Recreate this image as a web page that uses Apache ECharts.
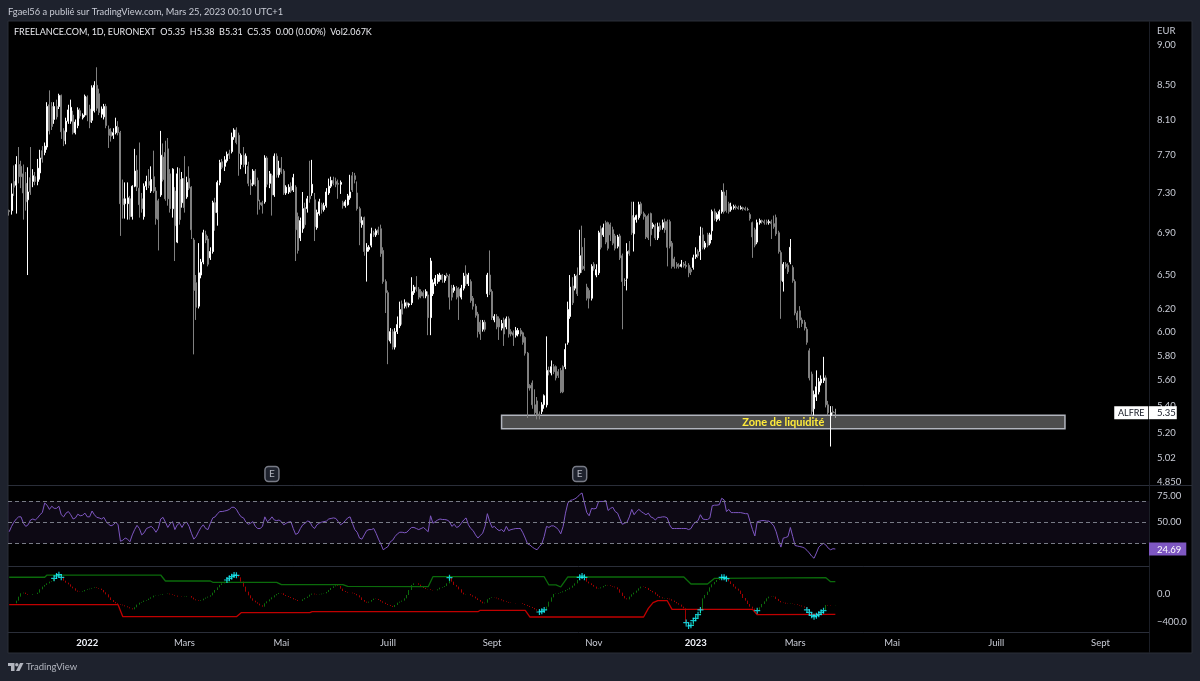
<!DOCTYPE html>
<html>
<head>
<meta charset="utf-8">
<title>FREELANCE.COM 1D</title>
<style>html,body{margin:0;padding:0;background:#1e222d}#main{width:1200px;height:681px}</style>
<script src="https://cdn.jsdelivr.net/npm/echarts@6/dist/echarts.min.js"></script>
</head>
<body>
<div id="main"></div>
<script>
// Daily session prices, oldest first
const opens = [
7.12,7.12,7.42,7.38,7.60,7.58,7.50,7.40,7.23,7.46,
7.42,7.47,7.42,7.51,7.75,7.73,7.79,8.27,8.25,8.10,
8.25,8.25,8.38,7.97,7.96,8.08,8.08,8.15,7.95,8.03,
8.20,8.12,8.15,8.36,8.22,8.09,8.20,8.50,8.40,8.16,
8.13,8.25,7.99,7.96,7.92,7.95,8.01,7.95,7.24,7.19,
7.19,7.24,7.06,7.37,7.54,7.35,7.24,7.06,7.37,7.42,
7.32,7.47,7.32,7.22,7.28,7.68,7.73,7.77,7.50,7.14,
7.32,6.81,7.44,7.20,7.45,7.26,7.45,7.36,6.83,6.43,
6.22,6.50,6.62,6.88,6.84,6.66,6.72,7.20,7.10,7.41,
7.63,7.58,7.64,7.72,7.74,7.90,7.98,7.92,7.60,7.70,
7.60,7.58,7.40,7.39,7.53,7.43,7.20,7.20,7.21,7.67,
7.40,7.48,7.28,7.69,7.49,7.56,7.53,7.30,7.31,7.37,
7.33,7.36,7.06,6.85,6.94,7.15,7.14,7.27,7.30,7.23,
6.95,7.09,7.18,7.13,7.17,7.30,7.37,7.43,7.42,7.40,
7.39,7.20,7.17,7.18,7.25,7.48,7.48,7.30,7.14,6.98,
7.05,6.72,6.74,6.78,6.90,6.88,6.93,6.94,6.73,6.44,
6.34,5.92,6.00,5.87,6.00,6.05,6.24,6.22,6.25,6.23,
6.25,6.34,6.39,6.37,6.35,6.34,6.31,6.32,6.12,6.33,
6.42,6.44,6.46,6.50,6.45,6.50,6.49,6.38,6.36,6.38,
6.37,6.30,6.38,6.51,6.42,6.44,6.29,6.22,6.15,6.08,
6.02,6.08,6.33,6.50,6.35,6.10,6.13,6.11,6.03,6.10,
6.04,6.11,6.00,5.99,5.97,5.98,6.01,5.99,5.95,5.82,
5.56,5.58,5.41,5.44,5.34,5.36,5.41,5.41,5.68,5.66,
5.71,5.71,5.67,5.68,5.71,5.71,5.91,6.13,6.40,6.38,
6.50,6.52,6.76,6.58,6.39,6.36,6.29,6.60,6.50,6.52,
6.94,6.88,7.00,7.00,6.98,6.93,6.87,6.77,6.87,6.68,
6.45,6.47,6.73,7.07,6.89,7.03,7.05,7.19,7.09,7.06,
7.07,7.09,6.96,6.97,6.85,6.97,6.95,7.01,7.01,7.01,
6.80,6.65,6.60,6.59,6.58,6.60,6.59,6.59,6.55,6.57,
6.67,6.72,6.72,6.88,6.76,6.88,6.80,6.92,7.11,7.03,
7.04,7.11,7.31,7.27,7.19,7.13,7.15,7.16,7.15,7.14,
7.15,7.14,7.13,7.08,7.00,6.93,6.81,7.00,7.02,7.01,
7.01,7.00,7.01,6.99,7.05,6.90,6.71,6.44,6.60,6.59,
6.62,6.57,6.44,6.16,6.18,6.10,6.08,6.02,5.84,5.65,
5.38,5.47,5.51,5.58,5.60,5.62,5.41,5.33,5.36,5.35];
const closes = [
7.11,7.29,7.36,7.60,7.47,7.47,7.30,7.21,7.31,7.31,
7.48,7.42,7.56,7.67,7.66,7.80,8.25,7.97,8.02,8.25,
8.13,8.38,7.96,7.86,8.08,8.21,8.24,7.95,8.07,8.21,
8.14,8.15,8.37,8.15,8.07,8.47,8.50,8.23,8.18,8.22,
8.25,8.03,7.92,7.91,7.95,8.02,7.95,7.19,7.18,7.24,
7.25,7.06,7.37,7.53,7.36,7.18,7.14,7.37,7.42,7.38,
7.44,7.32,7.04,7.03,7.70,7.44,7.24,7.24,7.14,7.55,
6.97,7.50,7.03,7.45,7.15,7.41,7.35,6.93,6.36,6.21,
6.52,6.62,6.90,6.83,6.60,6.72,7.20,7.10,7.41,7.62,
7.57,7.65,7.71,7.70,7.90,7.98,7.84,7.72,7.70,7.60,
7.69,7.40,7.38,7.53,7.39,7.22,7.18,7.17,7.67,7.39,
7.50,7.28,7.69,7.49,7.56,7.52,7.30,7.36,7.36,7.32,
7.46,6.93,6.73,7.02,7.14,6.98,7.24,7.24,7.39,6.96,
7.10,7.21,7.13,7.17,7.31,7.37,7.43,7.40,7.39,7.39,
7.41,7.17,7.21,7.27,7.31,7.33,7.44,7.14,7.00,7.02,
6.72,6.76,6.76,6.89,6.88,6.92,6.90,6.70,6.44,6.34,
5.93,6.00,5.87,6.00,6.06,6.19,6.15,6.25,6.23,6.24,
6.35,6.39,6.37,6.30,6.31,6.31,6.35,6.12,6.63,6.43,
6.47,6.50,6.50,6.46,6.49,6.49,6.30,6.30,6.39,6.30,
6.31,6.38,6.49,6.42,6.50,6.27,6.22,6.14,6.00,5.98,
6.08,6.02,6.50,6.35,6.12,6.13,6.04,6.04,6.07,5.98,
6.11,5.98,5.98,5.97,6.01,6.01,5.98,5.91,5.82,5.54,
5.54,5.41,5.35,5.33,5.33,5.41,5.48,5.68,5.67,5.71,
5.67,5.62,5.64,5.51,5.51,5.85,6.19,6.39,6.25,6.49,
6.33,6.68,6.55,6.56,6.29,6.29,6.58,6.56,6.55,6.90,
6.76,6.95,6.81,6.75,6.88,6.80,6.75,6.86,6.66,6.44,
6.45,6.72,6.70,6.90,7.05,7.07,7.18,7.09,7.06,6.86,
6.85,6.88,6.98,6.85,6.96,6.93,7.00,6.93,6.76,6.77,
6.58,6.58,6.58,6.58,6.60,6.59,6.58,6.52,6.53,6.66,
6.69,6.68,6.87,6.76,6.80,6.78,6.88,7.11,7.04,7.08,
7.11,7.31,7.11,7.12,7.11,7.16,7.16,7.15,7.14,7.15,
7.14,7.13,7.13,7.04,6.86,6.78,7.00,7.02,7.01,7.00,
7.00,7.01,6.99,6.96,6.89,6.72,6.45,6.60,6.58,6.53,
6.76,6.45,6.16,6.10,6.10,6.07,6.03,5.91,5.62,5.36,
5.49,5.55,5.59,5.61,5.62,5.41,5.35,5.35,5.35,5.35];
const highs = [
7.13,7.40,7.59,7.69,7.79,7.64,7.60,7.52,7.57,7.79,
7.55,7.52,7.66,7.76,7.80,7.84,8.30,8.44,8.30,8.30,
8.33,8.40,8.39,8.00,8.12,8.27,8.33,8.20,8.10,8.24,
8.23,8.17,8.39,8.38,8.27,8.50,8.55,8.72,8.46,8.25,
8.28,8.28,8.03,8.00,8.00,8.12,8.08,7.97,7.44,7.41,
7.41,7.27,7.38,7.77,7.70,7.84,7.30,7.40,7.48,7.55,
7.58,7.75,7.36,7.24,7.97,7.83,7.86,7.89,7.55,7.56,
7.36,7.57,7.56,7.52,7.69,7.47,7.58,7.37,6.85,6.50,
6.80,6.65,6.93,6.92,6.87,6.76,7.22,7.25,7.43,7.65,
7.66,7.69,7.74,7.76,7.95,8.00,8.01,7.95,7.72,7.79,
7.72,7.63,7.44,7.55,7.55,7.46,7.23,7.22,7.70,7.69,
7.53,7.50,7.72,7.72,7.64,7.68,7.55,7.38,7.39,7.41,
7.50,7.38,7.10,7.05,7.31,7.20,7.27,7.64,7.65,7.30,
7.13,7.24,7.20,7.20,7.35,7.45,7.47,7.47,7.46,7.44,
7.43,7.22,7.23,7.29,7.49,7.52,7.51,7.42,7.16,7.06,
7.06,6.80,6.78,6.95,6.92,6.94,6.96,6.98,6.76,6.46,
6.36,6.03,6.02,6.03,6.13,6.26,6.27,6.28,6.26,6.25,
6.48,6.41,6.49,6.39,6.37,6.36,6.37,6.35,6.66,6.46,
6.50,6.51,6.52,6.51,6.50,6.52,6.51,6.41,6.41,6.40,
6.39,6.41,6.52,6.59,6.52,6.46,6.31,6.24,6.17,6.10,
6.10,6.10,6.52,6.73,6.37,6.15,6.15,6.13,6.10,6.12,
6.13,6.13,6.02,6.01,6.04,6.03,6.03,6.00,5.96,5.83,
5.57,5.60,5.53,5.47,5.36,5.43,5.49,5.96,5.71,5.76,
5.73,5.72,5.69,5.70,5.72,5.90,6.26,6.50,6.48,6.51,
6.57,6.93,6.97,6.85,6.42,6.38,6.60,6.62,6.60,6.92,
6.97,6.99,7.02,7.01,7.00,6.96,6.89,6.88,6.89,6.70,
6.47,6.80,6.82,7.21,7.21,7.08,7.21,7.21,7.11,7.08,
7.09,7.10,7.00,6.99,7.00,7.00,7.03,7.04,7.03,7.03,
6.82,6.67,6.62,6.61,6.64,6.62,6.63,6.61,6.57,6.69,
6.76,6.74,6.96,6.95,6.82,6.90,6.90,7.13,7.14,7.10,
7.13,7.33,7.40,7.33,7.21,7.20,7.18,7.18,7.17,7.17,
7.16,7.16,7.15,7.10,7.01,6.95,7.03,7.04,7.03,7.03,
7.03,7.03,7.03,7.07,7.08,6.92,6.73,6.62,6.62,6.61,
6.84,6.59,6.46,6.18,6.22,6.12,6.10,6.04,5.86,5.67,
5.52,5.68,5.62,5.64,5.79,5.64,5.44,5.40,5.40,5.38];
const lows = [
7.07,7.08,7.27,7.09,7.40,7.35,7.03,7.12,6.50,7.28,
7.36,7.38,7.38,7.44,7.62,7.70,7.76,7.93,7.98,8.05,
8.10,8.22,7.88,7.80,7.82,8.05,8.05,7.93,7.93,8.00,
8.11,8.10,8.13,8.08,8.00,8.06,8.18,8.20,8.15,8.12,
8.10,8.00,7.78,7.85,7.88,7.93,7.92,6.87,7.04,7.04,
7.03,7.03,7.03,7.36,7.32,7.05,7.10,7.03,7.33,7.35,
7.30,7.30,6.98,6.73,7.26,7.42,7.22,7.17,7.10,7.05,
6.63,6.80,6.98,7.15,7.10,7.24,7.33,6.84,5.81,6.10,
6.20,6.47,6.60,6.80,6.58,6.64,6.70,6.92,6.97,7.38,
7.55,7.53,7.62,7.66,7.72,7.87,7.82,7.48,7.55,7.57,
7.50,7.37,7.28,7.37,7.37,7.08,7.13,7.09,7.19,7.36,
7.35,7.07,7.26,7.46,7.46,7.50,7.28,7.28,7.29,7.30,
7.31,6.63,6.70,6.82,6.90,6.95,7.10,7.20,7.27,6.82,
6.93,7.07,7.09,7.11,7.15,7.28,7.35,7.38,7.36,7.24,
7.29,7.14,7.15,7.17,7.23,7.31,7.40,7.12,6.78,6.95,
6.68,6.44,6.72,6.76,6.86,6.86,6.88,6.67,6.42,6.16,
5.73,5.90,5.85,5.85,5.98,6.03,6.06,6.20,6.20,6.21,
6.23,6.32,6.35,6.28,6.29,6.29,6.29,5.97,5.97,6.31,
6.40,6.42,6.44,6.43,6.43,6.47,6.19,6.27,6.34,6.28,
6.10,6.28,6.36,6.40,6.40,6.25,6.19,6.12,5.95,5.93,
6.00,6.00,6.30,6.32,6.10,6.08,6.02,5.93,6.01,5.88,
6.02,5.95,5.96,5.88,5.95,5.96,5.96,5.89,5.80,5.31,
5.52,5.38,5.33,5.30,5.30,5.34,5.38,5.39,5.64,5.64,
5.65,5.60,5.62,5.50,5.50,5.69,5.89,6.11,6.23,6.36,
6.31,6.50,6.52,6.54,6.27,6.20,6.27,6.54,6.48,6.50,
6.74,6.86,6.79,6.73,6.82,6.78,6.73,6.75,6.64,6.02,
6.40,6.36,6.68,6.88,6.72,7.00,7.03,7.07,7.03,6.84,
6.83,6.77,6.94,6.83,6.83,6.91,6.93,6.90,6.58,6.75,
6.56,6.56,6.56,6.56,6.57,6.57,6.56,6.48,6.50,6.55,
6.65,6.66,6.64,6.74,6.74,6.76,6.78,6.83,7.02,7.01,
7.02,7.09,7.09,7.10,7.09,7.11,7.13,7.13,7.13,7.13,
7.12,7.12,7.12,7.02,6.66,6.76,6.79,6.98,6.99,6.98,
6.98,6.98,6.84,6.94,6.87,6.70,6.11,6.35,6.56,6.51,
6.60,6.43,6.14,6.03,6.03,6.04,6.01,5.89,5.60,5.33,
5.33,5.44,5.49,5.56,5.58,5.39,5.33,5.10,5.33,5.31];

// Relative strength index, one reading per session
const rsi = [
41,46,50,53,55,55,49,46,47.5,52,
53,52,54,57,59,68,66,62,65,63,
63,65,57,55,58.5,60,57,53,54,57.5,
56,56.5,58.5,55,55,60.5,57,54.5,54,53,
54.5,50.5,48,46.5,47.5,50,47.5,32,33,35,
34,31.5,38,43,47,44,38,40,44,45,
46,44,40.5,44,53,54.5,50,45,48.5,50.5,
43,47.5,49,45,49,50,46,39.5,34,36.5,
41,45,47.5,44,43,49,54,55,58,60,
60,60.5,61,62,64,64,62,58,55,54,
50,48,49,50.5,46,44,44,46,55,50.5,
52,55,52,51.5,52,50.5,47.5,49,50,50.5,
44,38.5,39.5,44,47.5,49,51,50.5,46,44,
47.5,49,50,50.5,51,53,53.5,54,53.5,50.5,
47.5,49,51.5,54,55,49,43,40.5,35,34,
38,42,43,43,44,39.5,34,29.5,24,25.5,
27,31.5,33,36.5,39,40.5,40.5,40,40.5,43,
45,45,44,43,44,45,43,41,56,49,
50.5,52,53,52.5,52.5,52,50.5,46,48,45,
46,49,52,54,47.5,44,42,38,35,37.5,
39.5,46,58,50.5,45,46,43.5,42,43,41,
46,42,43,43.5,44,44,44,40,35,29.5,
28.5,26.5,25,24,27,29.5,36.5,46,45,46.5,
46.5,45,43,39,46,58.5,68,70.5,71,72,
73.5,76,77.5,68,59,56,63,62.5,63,69.5,
69.5,69.5,70.5,61,63,64,60,58.5,53,48,
49,50,55,62,57,60,62,60,58.5,57,
58.5,55,54,52,54.5,54.5,55,55,54,47.5,
44,44,44,44,44,44,44,43,44,48,
50,51.5,57,53,52.5,52.5,54,65.5,66,66,
66.5,72.5,71,60,62,59,59,59,59,59,
58.5,58,58,50.5,43,37,50.5,51,51.5,51.5,
51,51,49,46.5,41,33,26.5,35,35.5,36.5,
45,36.5,28,27.5,27,26.5,25.5,23.5,21,18,
16,21,26.5,28.5,30,28.5,25.5,24,25,24.69];
const rsiLevels = [70, 50, 30];

// Momentum oscillator and its upper and lower envelopes
const oscillator = [
null,null,-133,-95,-38,10,19,0,-10,-10,
0,0,19,67,105,129,152,176,186,224,
257,276,238,190,162,138,105,81,48,33,
29,38,57,67,76,86,95,86,76,57,
24,-5,-48,-86,-114,-133,-143,-152,-162,-176,
-190,-205,-219,-190,-152,-124,-114,-95,-86,-67,
-48,-24,-19,-14,-10,0,0,5,-5,-14,
-24,-38,-38,-43,-38,-29,-29,-52,-76,-90,
-100,-90,-67,-52,-38,-19,19,57,95,129,
152,176,200,224,248,271,267,238,176,105,
33,-19,-62,-95,-119,-138,-162,-181,-133,-105,
-76,-48,-19,0,14,10,-14,-29,-43,-57,
-76,-86,-100,-100,-76,-57,-38,-10,5,-5,
-10,-5,5,10,29,57,86,110,124,114,
76,43,29,19,19,10,0,-19,-48,-86,
-110,-124,-110,-86,-67,-71,-86,-105,-124,-143,
-157,-171,-186,-157,-124,-110,-95,-62,-14,57,
129,152,152,133,105,86,71,67,57,52,
52,67,90,100,114,152,233,176,129,105,
67,19,-5,0,0,-19,-38,-62,-86,-110,
-133,-124,-76,-57,-48,-52,-62,-76,-90,-105,
-114,-124,-129,-129,-133,-133,-133,-143,-157,-171,
-186,-200,-219,-238,-257,-248,-228,-181,-110,-48,
0,5,14,24,38,57,67,90,119,152,
200,238,257,238,176,152,129,105,76,81,
95,114,129,124,114,105,95,67,19,-29,
-62,-76,-38,-5,19,48,81,105,100,86,
57,43,24,-5,-29,-48,-62,-57,-67,-76,
-95,-114,-133,-152,-181,-205,-409,-457,-447,-381,
-347,-295,-228,-62,-14,33,95,138,171,200,
224,238,238,219,181,143,105,76,48,0,
-57,-95,-143,-181,-209,-228,-238,-190,-143,-105,
-62,-38,-43,-38,-71,-100,-119,-124,-138,-143,
-138,-143,-148,-157,-165,-178,-195,-228,-262,-305,
-324,-310,-290,-262,-238,-157,-165,-171,-171,-168];
const upperBand = [[0,239],[15,239],[16,271],[64,271],[66,186],[85,186],[86,167],[113,167],[115,133],[141,133],[143,110],[177,104],[179,247],[226,247],[228,129],[231,129],[233,100],[236,243],[285,243],[288,143],[295,143],[298,224],[345,233],[347,176],[349,176]];
const lowerBand = [[0,-153],[46,-153],[48,-324],[96,-324],[98,-267],[127,-267],[128,-253],[198,-253],[199,-233],[218,-233],[220,-329],[268,-329],[270,-205],[272,-124],[274,-96],[278,-96],[280,-219],[314,-219],[316,-296],[349,-290]];
const extremeSessions = [19,20,21,22,92,93,94,95,96,186,224,225,226,241,242,243,286,287,288,289,290,291,292,301,302,303,316,337,338,339,340,341,342,343,344];

// Axis ticks; the time axis extends past the last session
const sessionSlots = 482;
const slots = Array.from({length: sessionSlots}, (_, i) => String(i));
const timeTicks = {33:'2022',74:'Mars',115:'Mai',160:'Juill',204:'Sept',247:'Nov',290:'2023',332:'Mars',373:'Mai',417:'Juill',461:'Sept'};
const priceTicks = [9,8.5,8.1,7.7,7.3,6.9,6.5,6.2,6,5.8,5.6,5.4,5.2,5.02,4.85];
const rsiTicks = [75,50];
const oscTicks = [0,-400];

const lastPrice = 5.35;
const lastRsi = 24.69;
const earnings = [[111,4.906],[241,4.906]];
const liquidityZone = {from:208,to:446,top:5.33,bottom:5.23,name:'Zone de liquidité'};

const FONT = 'Lato, sans-serif';
const TEXT = '#c9ccd6';
const SIZE = 9.5;

const priceBars = opens.map((o,i) => [o, closes[i], lows[i], highs[i]]);
const oscBars = oscillator.map((v,i) => {
  if (v === null) return ['-','-','-','-'];
  const prev = i === 0 || oscillator[i-1] === null ? v : oscillator[i-1];
  return [prev, v, Math.min(prev,v), Math.max(prev,v)];
});

const chart = echarts.init(document.getElementById('main'), null, {renderer:'canvas'});
const hiddenX = idx => ({type:'category', gridIndex:idx, data:slots, axisLine:{show:true,onZero:false,lineStyle:{color:'#2a2e39'}}, axisTick:{show:false}, axisLabel:{show:false}, splitLine:{show:false}});

const axisRich = {
  v:{color:TEXT,fontSize:SIZE,fontFamily:FONT,padding:[0,0,0,8]},
  tag:{color:'#131722',fontSize:SIZE,fontFamily:FONT,backgroundColor:'#ffffff',padding:[2,1,1,8]},
  rsi:{color:'#ffffff',fontSize:SIZE,fontFamily:FONT,backgroundColor:'#7e57c2',padding:[2,5,1,8]}
};
const titleText = (text,left,top,color,size) => ({text,left,top,padding:0,textStyle:{color,fontSize:size,fontWeight:'normal',fontFamily:FONT}});

chart.setOption({
  animation:false,
  backgroundColor:'#1e222d',
  title:[
    titleText('Fgael56 a publié sur TradingView.com, Mars 25, 2023 00:10 UTC+1',8,7,'#c9ccd6',9.3),
    titleText('FREELANCE.COM, 1D, EURONEXT  O5.35  H5.38  B5.31  C5.35  0.00 (0.00%)  Vol2.067K',14,28,'#e8e9ee',9),
    titleText('EUR',1157,26,TEXT,SIZE),
    titleText('TradingView',26,662,'#b2b5be',SIZE)
  ],
  graphic:[
    {type:'rect',z:-10,shape:{x:8,y:21,width:1184,height:632},style:{fill:'#000000',stroke:'#2a2e39',lineWidth:1},silent:true},
    {type:'line',z:-9,shape:{x1:1149.5,y1:21,x2:1149.5,y2:653},style:{stroke:'#1b1e26',lineWidth:1},silent:true},
    {type:'rect',z:20,silent:true,shape:{x:1150,y:485,width:41,height:5},style:{fill:'#000000'}},
    {type:'line',z:21,silent:true,shape:{x1:1150,y1:485.5,x2:1192,y2:485.5},style:{stroke:'#2a2e39',lineWidth:1}},
    {type:'polygon',silent:true,shape:{points:[[8,663],[14.5,663],[14.5,671],[11,671],[11,666],[8,666]]},style:{fill:'#b2b5be'}},
    {type:'circle',silent:true,shape:{cx:16.8,cy:664.7,r:1.7},style:{fill:'#b2b5be'}},
    {type:'polygon',silent:true,shape:{points:[[20,663],[23.5,663],[19.5,671],[16,671]]},style:{fill:'#b2b5be'}}
  ],
  grid:[
    {left:8,right:51,top:21,height:464},
    {left:8,right:51,top:485,height:81},
    {left:8,right:51,top:566,height:66}
  ],
  xAxis:[
    hiddenX(0),hiddenX(1),
    Object.assign(hiddenX(2),{axisLabel:{show:true,margin:6,fontFamily:FONT,fontSize:SIZE,color:TEXT,
      interval:i => i in timeTicks,
      formatter:(v,i) => /^\d/.test(timeTicks[i]) ? '{y|'+timeTicks[i]+'}' : timeTicks[i],
      rich:{y:{color:'#f0f3fa',fontWeight:'bold',fontSize:SIZE,fontFamily:FONT}}}})
  ],
  yAxis:[
    {type:'log',gridIndex:0,min:4.83,max:9.31,position:'right',axisLine:{show:false},axisTick:{show:false},splitLine:{show:false},
      axisLabel:{margin:0,customValues:priceTicks.concat([lastPrice]),rich:axisRich,
        formatter:v => Math.abs(v-lastPrice)<1e-6 ? '{tag|'+lastPrice.toFixed(2)+'}' : '{v|'+(Math.abs(v-4.85)<1e-6?'4.850':v.toFixed(2))+'}'}},
    {type:'value',gridIndex:1,min:8.7,max:85,position:'right',axisLine:{show:false},axisTick:{show:false},splitLine:{show:false},
      axisLabel:{margin:0,customValues:rsiTicks.concat([lastRsi]),rich:axisRich,
        formatter:v => v===lastRsi ? '{rsi|'+v.toFixed(2)+'}' : '{v|'+v.toFixed(2)+'}'}},
    {type:'value',gridIndex:2,min:-543,max:400,position:'right',axisLine:{show:false},axisTick:{show:false},splitLine:{show:false},
      axisLabel:{margin:0,customValues:oscTicks,rich:axisRich,
        formatter:v => '{v|'+(v<0?'−':'')+Math.abs(v).toFixed(1)+'}'}}
  ],
  series:[
    {type:'candlestick',xAxisIndex:0,yAxisIndex:0,data:priceBars,barWidth:1.5,
      itemStyle:{color:'#ffffff',color0:'#808080',borderColor:'#ffffff',borderColor0:'#808080',borderColorDoji:'#a0a0a0',borderWidth:1},
      markArea:{silent:true,itemStyle:{color:'#4d4d4d',borderColor:'#b2b5be',borderWidth:1.5},
        label:{show:true,position:'inside',color:'#ffeb3b',fontSize:11,fontWeight:'bold',fontFamily:FONT},
        data:[[{name:liquidityZone.name,coord:[liquidityZone.from,liquidityZone.top]},{coord:[liquidityZone.to,liquidityZone.bottom]}]]},
      markPoint:{silent:true,animation:false,data:[
        ...earnings.map(c => ({coord:c,symbol:'roundRect',symbolSize:[14,15],
          itemStyle:{color:'#1e222d',borderColor:'#787b86',borderWidth:1.5},
          label:{show:true,formatter:'E',position:'inside',color:'#b2b5be',fontSize:10,fontFamily:FONT}})),
        {coord:[474,lastPrice],symbol:'rect',symbolSize:[34,13],itemStyle:{color:'#ffffff'},
          label:{show:true,formatter:'ALFRE',position:'inside',color:'#131722',fontSize:9,fontFamily:FONT}}
      ]}},
    {type:'line',xAxisIndex:1,yAxisIndex:1,data:rsi,showSymbol:false,lineStyle:{color:'#7e57c2',width:1},
      markArea:{silent:true,itemStyle:{color:'rgba(126,87,194,0.1)'},data:[[{yAxis:rsiLevels[0]},{yAxis:rsiLevels[2]}]]},
      markLine:{silent:true,symbol:'none',label:{show:false},lineStyle:{color:'#787b86',type:[4,3],width:1},data:rsiLevels.map(v => ({yAxis:v}))}},
    {type:'line',xAxisIndex:2,yAxisIndex:2,data:upperBand,showSymbol:false,lineStyle:{color:'#0b6b0b',width:1.3}},
    {type:'line',xAxisIndex:2,yAxisIndex:2,data:lowerBand,showSymbol:false,lineStyle:{color:'#c00000',width:1.3}},
    {type:'candlestick',xAxisIndex:2,yAxisIndex:2,data:oscBars,barWidth:1,
      itemStyle:{color:'#0b6b0b',color0:'#a00000',borderColor:'#0b6b0b',borderColor0:'#a00000',borderWidth:1}},
    {type:'scatter',xAxisIndex:2,yAxisIndex:2,data:extremeSessions.map(i => [i,oscillator[i]]),symbol:'path://M4 0h2v4h4v2H6v4H4V6H0V4h4z',symbolSize:6,itemStyle:{color:'#19f5ff'},z:5}
  ]
});
</script>
</body>
</html>
